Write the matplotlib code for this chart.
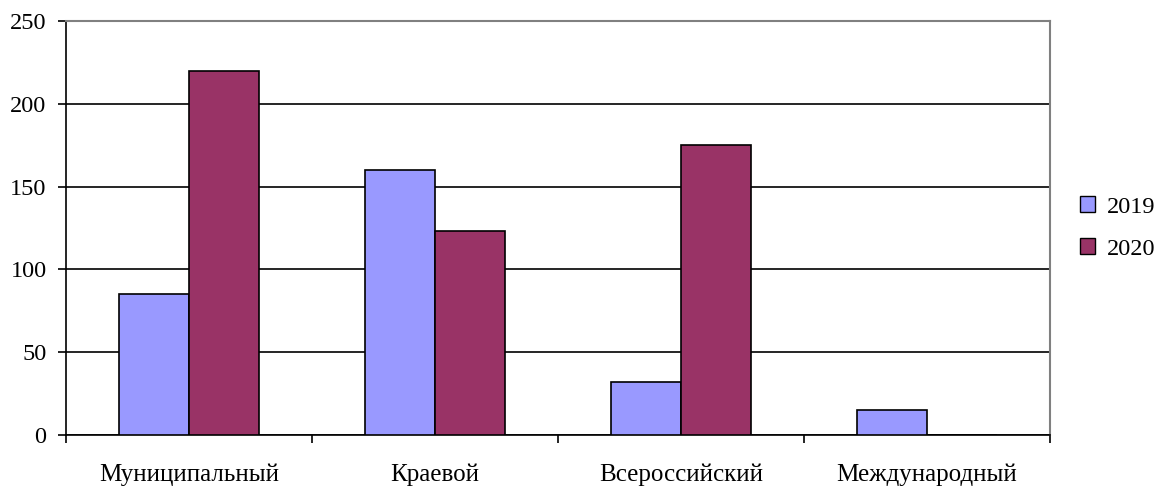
import matplotlib
matplotlib.use("Agg")
import matplotlib.pyplot as plt
import numpy as np
from matplotlib.patches import Patch

categories = ["Муниципальный", "Краевой", "Всероссийский", "Международный"]
series_names = ["2019", "2020"]
values_2019 = [85, 160, 32, 15]
values_2020 = [220, 123, 175, 0]
y_ticks = [0, 50, 100, 150, 200, 250]

plt.rcParams['font.family'] = ['Liberation Serif', 'DejaVu Serif']

fig = plt.figure(figsize=(11.54, 4.88), dpi=100)
W, H = 1154, 488
ax = fig.add_axes([66 / W, 1 - 435 / H, (1050 - 66) / W, (435 - 21) / H])

x = np.arange(len(categories))
bw = 70 / 246
ax.bar(x - bw / 2, values_2019, bw, color="#9999FF", edgecolor="black", linewidth=1.2, zorder=3)
ax.bar(x + bw / 2, values_2020, bw, color="#993366", edgecolor="black", linewidth=1.2, zorder=3)

ax.set_xlim(-0.5, len(categories) - 0.5)
ax.set_ylim(0, 250)
ax.set_yticks(y_ticks)
ax.yaxis.grid(True, color="black", linewidth=1.2, zorder=0)
ax.set_axisbelow(True)

ax.set_xticks(np.arange(len(categories) + 1) - 0.5)
ax.set_xticklabels([])
ax.set_xticks(x, minor=True)
ax.set_xticklabels(categories, minor=True)
ax.tick_params(axis='x', which='minor', length=0, pad=20.5, labelsize=18)
ax.tick_params(axis='x', which='major', length=6, width=1.2, direction='out')
ax.tick_params(axis='y', length=6, width=1.2, direction='out', labelsize=17.5, pad=8)

for s in ["top", "right"]:
    ax.spines[s].set_color("#808080")
    ax.spines[s].set_linewidth(1.5)
for s in ["left", "bottom"]:
    ax.spines[s].set_color("black")
    ax.spines[s].set_linewidth(1.2)

handles = [Patch(facecolor="#9999FF", edgecolor="black", label=series_names[0]),
           Patch(facecolor="#993366", edgecolor="black", label=series_names[1])]
fig.legend(handles=handles, loc="center left", bbox_to_anchor=(1080 / W, 1 - 228 / H),
           frameon=False, fontsize=17.5, handlelength=0.6, handleheight=0.6,
           handletextpad=0.5, labelspacing=0.85, borderpad=0, borderaxespad=0)

fig.savefig("out.png", dpi=100)
